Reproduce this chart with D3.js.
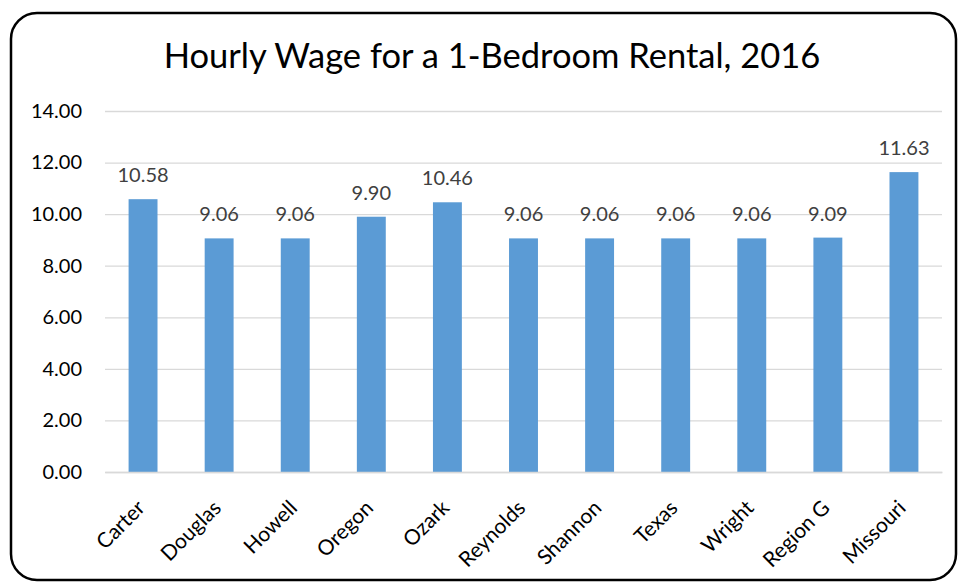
<!DOCTYPE html>
<html>
<head>
<meta charset="utf-8">
<script src="https://cdn.jsdelivr.net/npm/d3@7"></script>
<style>
  html, body { margin: 0; padding: 0; background: #fff; }
  svg { display: block; }
  text { font-family: Lato, "Open Sans", sans-serif; }
</style>
</head>
<body>
<svg id="chart" width="958" height="582"></svg>
<script>
// Hourly wage needed to afford a 1-bedroom rental, 2016
const categories = ["Carter", "Douglas", "Howell", "Oregon", "Ozark", "Reynolds",
                    "Shannon", "Texas", "Wright", "Region G", "Missouri"];
const wages = [10.58, 9.06, 9.06, 9.90, 10.46, 9.06, 9.06, 9.06, 9.06, 9.09, 11.63];
const yTicks = [0, 2, 4, 6, 8, 10, 12, 14];
const title = "Hourly Wage for a 1-Bedroom Rental, 2016";

const svg = d3.select("#chart");
const W = 958, H = 582;
const margin = { top: 111, right: 16, bottom: 110, left: 105 };
const innerW = W - margin.left - margin.right;
const innerH = H - margin.top - margin.bottom;
const labelSize = 20;

// chart frame
svg.append("rect")
  .attr("x", 11).attr("y", 13)
  .attr("width", 945).attr("height", 567)
  .attr("rx", 26).attr("ry", 26)
  .attr("fill", "#fff")
  .attr("stroke", "#000")
  .attr("stroke-width", 2.5);

svg.append("text")
  .attr("x", 492).attr("y", 68)
  .attr("text-anchor", "middle")
  .attr("font-size", 34.5)
  .attr("fill", "#000")
  .text(title);

const g = svg.append("g").attr("transform", `translate(${margin.left},${margin.top})`);

const x = d3.scaleBand().domain(categories).range([0, innerW]).paddingInner(0.62).paddingOuter(0.31);
const y = d3.scaleLinear().domain([0, 14]).range([innerH, 0]);

// gridlines and value axis
const yAxis = d3.axisLeft(y).tickValues(yTicks).tickSize(-innerW).tickFormat(d3.format(".2f")).tickPadding(23);
const ya = g.append("g").call(yAxis);
ya.select(".domain").remove();
ya.selectAll(".tick line").attr("stroke", "#d9d9d9").attr("stroke-width", 1.3);
ya.selectAll(".tick text").attr("font-size", labelSize).attr("fill", "#000")
  .style("font-family", "Lato, 'Open Sans', sans-serif");

// bars
g.selectAll("rect.bar").data(categories).join("rect")
  .attr("class", "bar")
  .attr("x", d => x(d))
  .attr("width", x.bandwidth())
  .attr("y", (d, i) => y(wages[i]))
  .attr("height", (d, i) => innerH - y(wages[i]))
  .attr("fill", "#5b9bd5");

// value labels
g.selectAll("text.val").data(categories).join("text")
  .attr("class", "val")
  .attr("x", d => x(d) + x.bandwidth() / 2)
  .attr("y", (d, i) => y(wages[i]) - 17)
  .attr("text-anchor", "middle")
  .attr("font-size", labelSize)
  .attr("fill", "#404040")
  .text((d, i) => wages[i].toFixed(2));

// category axis
const xAxis = d3.axisBottom(x).tickSize(0).tickPadding(0);
const xa = g.append("g").attr("transform", `translate(0,${innerH})`).call(xAxis);
xa.select(".domain").attr("stroke", "#d9d9d9").attr("stroke-width", 1.3);
xa.selectAll(".tick text")
  .attr("font-size", 21)
  .attr("fill", "#000")
  .style("font-family", "Lato, 'Open Sans', sans-serif")
  .attr("text-anchor", "end")
  .attr("dy", "0.35em")
  .attr("transform", "translate(-2,32) rotate(-45)");
</script>
</body>
</html>
